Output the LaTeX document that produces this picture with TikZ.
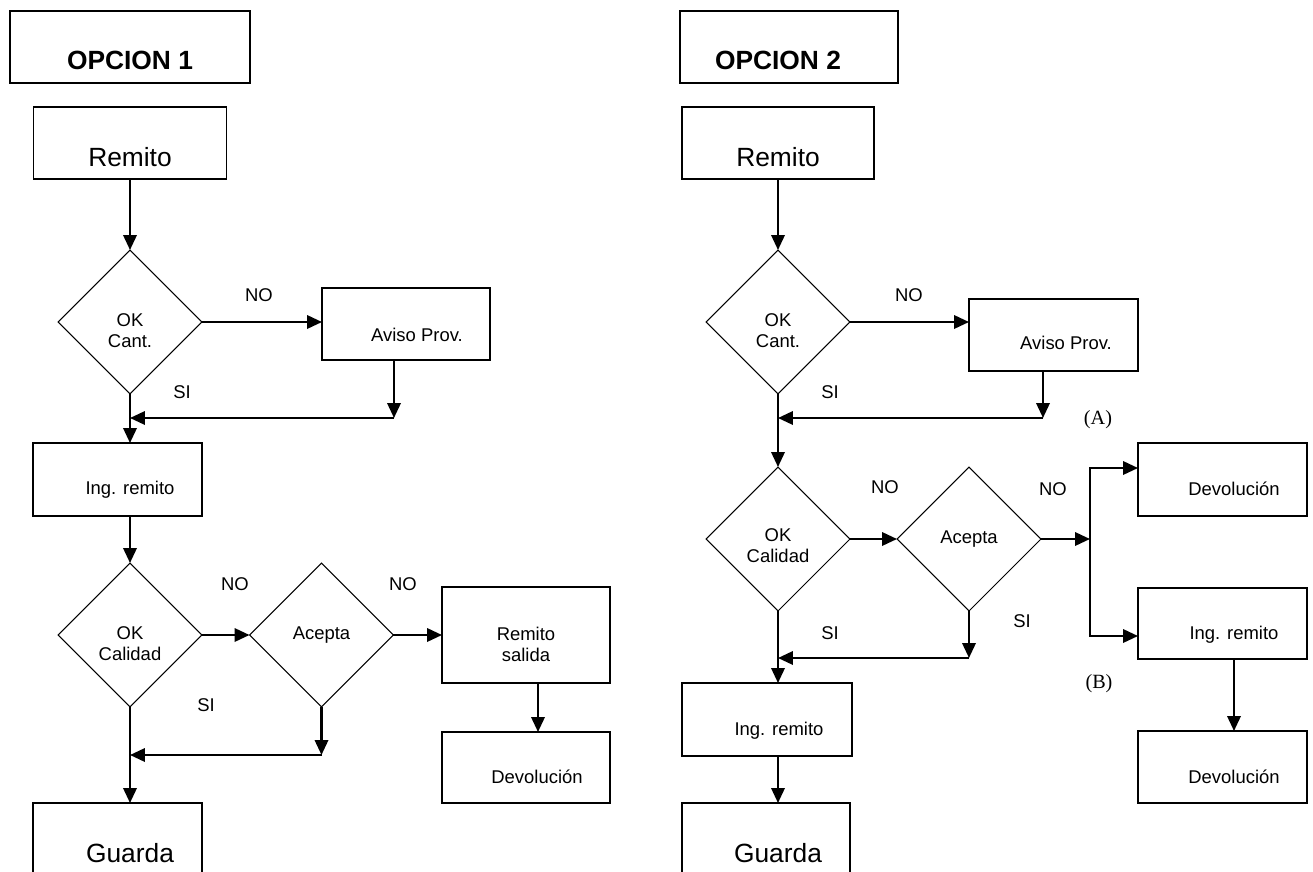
\documentclass[tikz,border=0pt]{standalone}
\usepackage{fontspec}
\setmainfont{Liberation Sans}
\newfontfamily\serifa{Liberation Serif}
\usetikzlibrary{arrows.meta,shapes.geometric}

\begin{document}
\begin{tikzpicture}[x=0.02cm, y=-0.02cm, >={Triangle[length=8.5pt,width=7.6pt]},
  caja/.style={draw, line width=0.75pt, inner sep=0pt, outer sep=0pt},
  rombo/.style={draw, diamond, line width=0.6pt, minimum width=2.88cm, minimum height=2.88cm, inner sep=0pt, outer sep=0pt},
  flecha/.style={->, line width=1.3pt},
  chico/.style={font=\fontsize{10.5}{12}\selectfont, align=center, inner sep=0pt},
  grande/.style={font=\fontsize{15}{18}\selectfont, inner sep=0pt},
  titulo/.style={font=\fontsize{15}{18}\selectfont\bfseries, inner sep=0pt},
  nota/.style={font=\serifa\fontsize{11.5}{13}\selectfont, inner sep=0pt}]
\useasboundingbox (0,0) rectangle (1313,872);
\clip (0,0) rectangle (1313,872);

% ---------- opcion 1 ----------
\node[caja, minimum width=4.8cm, minimum height=1.44cm] (op1) at (130,47) {};
\node[titulo] (t-op1) at (130,60) {OPCION 1};
\node[caja, minimum width=3.86cm, minimum height=1.44cm] (rem1) at (130,143) {};
\node[grande] (t-rem1) at (130,157) {Remito};
\node[rombo] (ok1) at (130,322) {};
\node[chico] (t-ok1) at (130,331) {OK\\Cant.};
\node[caja, minimum width=3.36cm, minimum height=1.44cm] (avi1) at (406,324) {};
\node[chico] (t-avi1) at (417,335) {Aviso Prov.};
\node[caja, minimum width=3.38cm, minimum height=1.46cm] (ing1) at (117.5,479.5) {};
\node[chico] (t-ing1) at (130,490) {Ing. remito};
\node[rombo] (cal1) at (130,635) {};
\node[chico] (t-cal1) at (130,643.5) {OK\\Calidad};
\node[rombo] (acep1) at (321.5,635) {};
\node[chico] (t-acep1) at (321.5,635) {Acepta};
\node[caja, minimum width=3.36cm, minimum height=1.92cm] (sal1) at (526,635) {};
\node[chico] (t-sal1) at (526,644) {Remito\\salida};
\node[caja, minimum width=3.36cm, minimum height=1.42cm] (dev1) at (526,767.5) {};
\node[chico] (t-dev1) at (537,777) {Devolución};
\node[caja, minimum width=3.38cm, minimum height=1.92cm] (gua1) at (117.5,851) {};
\node[grande] (t-gua1) at (130,853) {Guarda};
% si / no
\node[chico] (no1) at (259,295) {NO};
\node[chico] (si1) at (182,392) {SI};
\node[chico] (no2) at (235,584) {NO};
\node[chico] (no3) at (403,584) {NO};
\node[chico] (si2) at (206,705) {SI};
% flechas
\coordinate (m1) at (394,418);
\coordinate (m2) at (321.5,755);
\draw[flecha] (rem1.south) -- (ok1.north);
\draw[flecha] (ok1.east) -- (avi1.west |- ok1.east);
\draw[flecha] (avi1.south -| m1) -- (m1);
\draw[flecha] (m1) -- (m1 -| ok1.south);
\draw[flecha] (ok1.south) -- (ing1.north -| ok1.south);
\draw[flecha] (ing1.south -| cal1.north) -- (cal1.north);
\draw[flecha] (cal1.east) -- (acep1.west);
\draw[flecha] (acep1.east) -- (sal1.west |- acep1.east);
\draw[flecha] (acep1.south) -- (m2);
\draw[flecha] (m2) -- (m2 -| cal1.south);
\draw[flecha] (cal1.south) -- (gua1.north -| cal1.south);
\draw[flecha] ([xshift=0.24cm]sal1.south) -- ([xshift=0.24cm]dev1.north);

% ---------- opcion 2 ----------
\node[caja, minimum width=4.36cm, minimum height=1.44cm] (op2) at (789,47) {};
\node[titulo] (t-op2) at (778,60) {OPCION 2};
\node[caja, minimum width=3.84cm, minimum height=1.44cm] (rem2) at (778,143) {};
\node[grande] (t-rem2) at (778,157) {Remito};
\node[rombo] (ok2) at (778,322) {};
\node[chico] (t-ok2) at (778,331) {OK\\Cant.};
\node[caja, minimum width=3.38cm, minimum height=1.44cm] (avi2) at (1053.5,335) {};
\node[chico] (t-avi2) at (1066,343) {Aviso Prov.};
\node[rombo] (cal2) at (778,539) {};
\node[chico] (t-cal2) at (778,546) {OK\\Calidad};
\node[rombo] (acep2) at (969,539) {};
\node[chico] (t-acep2) at (969,539) {Acepta};
\node[caja, minimum width=3.4cm, minimum height=1.46cm] (ing2) at (767,719.5) {};
\node[chico] (t-ing2) at (779,731) {Ing. remito};
\node[caja, minimum width=3.36cm, minimum height=1.92cm] (gua2) at (766,851) {};
\node[grande] (t-gua2) at (778,853) {Guarda};
\node[caja, minimum width=3.38cm, minimum height=1.46cm] (devA) at (1222.5,479.5) {};
\node[chico] (t-devA) at (1234,489) {Devolución};
\node[caja, minimum width=3.38cm, minimum height=1.42cm] (ingB) at (1222.5,623.5) {};
\node[chico] (t-ingB) at (1234,635) {Ing. remito};
\node[caja, minimum width=3.38cm, minimum height=1.44cm] (devB) at (1222.5,767) {};
\node[chico] (t-devB) at (1234,777) {Devolución};
% si / no
\node[chico] (no4) at (909,295) {NO};
\node[chico] (si3) at (830,392) {SI};
\node[chico] (no5) at (885,487) {NO};
\node[chico] (no6) at (1053,489) {NO};
\node[chico] (si4) at (830,633) {SI};
\node[chico] (si5) at (1022,621) {SI};
\node[nota] (nA) at (1098,420) {(A)};
\node[nota] (nB) at (1099,684) {(B)};
% flechas
\coordinate (m3) at (1043,418);
\coordinate (m4) at (969,658);
\coordinate (f1) at (1090,468);
\coordinate (f2) at (1090,636);
\draw[flecha] (rem2.south) -- (ok2.north);
\draw[flecha] (ok2.east) -- (avi2.west |- ok2.east);
\draw[flecha] (avi2.south -| m3) -- (m3);
\draw[flecha] (m3) -- (m3 -| ok2.south);
\draw[flecha] (ok2.south) -- (cal2.north);
\draw[flecha] (cal2.east) -- (acep2.west);
\draw[flecha] (acep2.east) -- (acep2.east -| f1);
\draw[flecha, <->] (devA.west |- f1) -- (f1) -- (f2) -- (ingB.west |- f2);
\draw[flecha] (acep2.south) -- (m4);
\draw[flecha] (m4) -- (m4 -| cal2.south);
\draw[flecha] (cal2.south) -- (ing2.north -| cal2.south);
\draw[flecha] (ing2.south -| cal2.south) -- (gua2.north -| cal2.south);
\draw[flecha] ([xshift=0.23cm]ingB.south) -- ([xshift=0.23cm]devB.north);
\end{tikzpicture}
\end{document}
